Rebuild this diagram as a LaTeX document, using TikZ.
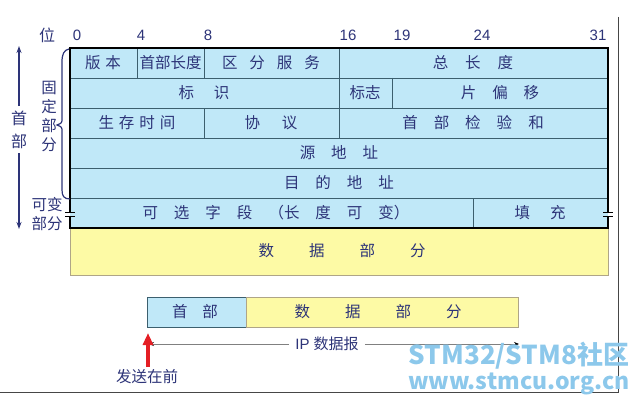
\documentclass[tikz,border=0pt]{standalone}
\usepackage{fontspec}
\setmainfont{Noto Sans CJK SC}
\newfontfamily\numfont{Liberation Sans}
\usetikzlibrary{arrows.meta}
\definecolor{navy}{RGB}{45,52,120}
\definecolor{hblue}{RGB}{192,232,248}
\definecolor{dyel}{RGB}{253,250,165}
\definecolor{gridc}{RGB}{60,95,110}
\definecolor{tanc}{RGB}{175,165,135}
\definecolor{wmc}{RGB}{140,200,235}
\definecolor{framec}{RGB}{70,70,70}
\definecolor{redc}{RGB}{228,30,36}
\newcommand\gp[1]{\hspace{#1pt}}
\begin{document}
\begin{tikzpicture}[x=1pt,y=-1pt,
  lbl/.style={font=\fontsize{15.5}{18}\selectfont, text=navy, inner sep=0pt},
  num/.style={font=\numfont\fontsize{15}{18}\selectfont, text=navy, inner sep=0pt},
  gridline/.style={draw=gridc, line width=0.8pt},
  border/.style={draw=black, line width=1.8pt},
  navyarrow/.style={draw=navy, line width=1.4pt, -{Stealth[length=7pt,width=5pt]}},
  wm/.style={font=\bfseries\fontsize{26}{28}\selectfont, text=wmc, inner sep=0pt}]
\useasboundingbox (0,0) rectangle (640,404);

% fills
\fill[hblue] (70,48) rectangle (608,228);
\filldraw[fill=dyel, draw=tanc, line width=0.8pt] (70,228) rectangle (608,275);

% grid
\draw[gridline] (70,78) -- (608,78) (70,108) -- (608,108) (70,138) -- (608,138)
  (70,168) -- (608,168) (70,198) -- (608,198);
\draw[gridline] (137,48) -- (137,78) (204,48) -- (204,78) (339,48) -- (339,78);
\draw[gridline] (339,78) -- (339,108) (392,78) -- (392,108);
\draw[gridline] (204,108) -- (204,138) (339,108) -- (339,138);
\draw[gridline] (473,198) -- (473,228);

% border with breaks
\draw[border, line join=miter] (70,212) -- (70,48) -- (608,48) -- (608,212);
\draw[border, line join=miter] (608,216) -- (608,228) -- (70,228) -- (70,216);
\draw[line width=1pt] (65,212) -- (75,212) (65,216) -- (75,216);
\draw[line width=1pt] (603,212) -- (613,212) (603,216) -- (613,216);

% top labels
\node[lbl, font=\fontsize{16}{18}\selectfont] (wei) at (47,35) {位};
\node[num] (b0) at (77,35) {0};
\node[num] (b4) at (141,35) {4};
\node[num] (b8) at (208,35) {8};
\node[num] (b16) at (348,35) {16};
\node[num] (b19) at (402,35) {19};
\node[num] (b24) at (482,35) {24};
\node[num] (b31) at (598,35) {31};

% row 1
\node[lbl] (ver) at (103,63) {版\gp{5}本};
\node[lbl] (hlen) at (170.5,63) {首部长度};
\node[lbl] (ds) at (271,63) {区\gp{12}分\gp{12}服\gp{12}务};
\node[lbl] (tlen) at (473,63) {总\gp{17}长\gp{17}度};
% row 2
\node[lbl] (ident) at (204,93) {标\gp{20}识};
\node[lbl] (flag) at (365,93) {标志};
\node[lbl] (frag) at (500,93) {片\gp{16}偏\gp{16}移};
% row 3
\node[lbl] (ttl) at (137,123) {生\gp{5}存\gp{5}时\gp{5}间};
\node[lbl] (proto) at (271,123) {协\gp{22}议};
\node[lbl] (csum) at (473,123) {首\gp{16}部\gp{16}检\gp{16}验\gp{16}和};
% row 4-5
\node[lbl] (src) at (339,153) {源\gp{16}地\gp{16}址};
\node[lbl] (dst) at (339,183) {目\gp{16}的\gp{16}地\gp{16}址};
% row 6
\node[lbl] (opt) at (276,213) {可\gp{16}选\gp{16}字\gp{16}段\gp{16}（长\gp{16}度\gp{16}可\gp{16}变）};
\node[lbl] (pad) at (540,213) {填\gp{20}充};
% data
\node[lbl] (data) at (342,251) {数\gp{35}据\gp{35}部\gp{35}分};

% left side labels
\node[lbl, font=\fontsize{16}{18}\selectfont] (shou) at (19,118) {首};
\node[lbl, font=\fontsize{16}{18}\selectfont] (bu) at (19,141) {部};
\draw[navyarrow] (19,106) -- (19,46);
\draw[navyarrow] (19,153) -- (19,229);
\node[lbl] (g1) at (49,88) {固};
\node[lbl] (g2) at (49,107) {定};
\node[lbl] (g3) at (49,126) {部};
\node[lbl] (g4) at (49,145) {分};
\node[lbl] (kb1) at (47,205) {可变};
\node[lbl] (kb2) at (47,224) {部分};
\draw[navy, line width=1.2pt] (69,49) .. controls (64,50) and (62,54) .. (62,62) -- (62,118)
  .. controls (62,123) .. (57,125) .. controls (62,127) .. (62,132) -- (62,190)
  .. controls (62,196) and (64,199) .. (70,199);

% frame lines
\draw[framec, line width=1pt] (618,17) -- (618,392) -- (0,392);

% bottom datagram
\filldraw[fill=hblue, draw=gridc, line width=0.8pt] (147,297) rectangle (246,327);
\filldraw[fill=dyel, draw=tanc, line width=0.8pt] (246,297) rectangle (518,327);
\node[lbl] (bhdr) at (195,312) {首\gp{15}部};
\node[lbl] (bdata) at (378,312) {数\gp{35}据\gp{35}部\gp{35}分};
\coordinate (ipl) at (149,344);
\coordinate (ipr) at (519,344);
\node[lbl, font=\numfont\fontsize{15}{18}\selectfont, fill=white, inner xsep=6pt, inner ysep=2pt] (ip) at (327,344) {IP \fontspec{Noto Sans CJK SC}数据报};
\draw[gray, line width=0.8pt, -{Stealth[length=5pt,width=4pt,black]}] (ip.west) -- (ipl);
\draw[gray, line width=0.8pt, -{Stealth[length=5pt,width=4pt,black]}] (ip.east) -- (ipr);
\coordinate (redtail) at (148,367);
\coordinate (redtip) at (148,333);
\draw[redc, line width=3.5pt, -{Triangle[length=12pt,width=10pt]}] (redtail) -- (redtip);
\node[lbl] (send) at (147,377) {发送在前};

% watermark
\node[wm] (wm1) at (519,356) {STM32/STM8社区};
\node[wm, font=\bfseries\fontsize{23}{26}\selectfont] (wm2) at (519,384) {www.stmcu.org.cn};
\end{tikzpicture}
\end{document}
